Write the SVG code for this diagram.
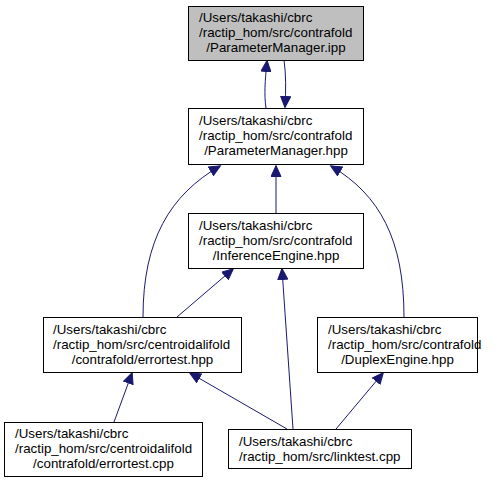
<svg xmlns="http://www.w3.org/2000/svg" width="499" height="483" viewBox="0 0 499 483">
<style>
.box{fill:#ffffff;stroke:#000000;stroke-width:1}
.hl{fill:#bfbfbf}
text{font-family:"Liberation Sans",Arial,sans-serif;font-size:13.33px;fill:#000000}
.m{text-anchor:middle}
.e{fill:none;stroke:#191970;stroke-width:1;marker-end:url(#ah)}
</style>
<defs>
<marker id="ah" markerUnits="userSpaceOnUse" markerWidth="13" markerHeight="11" refX="11" refY="5.5" orient="auto">
<path d="M0.5,0.5 L11.5,5.5 L0.5,10.5 z" fill="#191970" stroke="#191970" stroke-width="1"/>
</marker>
</defs>
<rect width="499" height="483" fill="#ffffff"/>
<g id="edges">
<path class="e" d="M266,108 C264,94 265,82 267,61"/>
<path class="e" d="M284,60 C286,74 286,90 285,107"/>
<path class="e" d="M143,317 C143,240 170,195 220,166"/>
<path class="e" d="M276,213 L276,166"/>
<path class="e" d="M404,317 C404,240 380,195 331,166"/>
<path class="e" d="M177,317 L233,269"/>
<path class="e" d="M293,429 L282,269"/>
<path class="e" d="M287,429 L190,373"/>
<path class="e" d="M336,429 L383,373"/>
<path class="e" d="M114,422 L132,373"/>
</g>
<g id="node_ipp">
<rect class="box hl" x="188.5" y="6.5" width="175" height="54"/>
<text x="199" y="22">/Users/takashi/cbrc</text>
<text x="199" y="37">/ractip_hom/src/contrafold</text>
<text class="m" x="276" y="52">/ParameterManager.ipp</text>
</g>
<g id="node_pm_hpp">
<rect class="box" x="188.5" y="108.5" width="175" height="56"/>
<text x="199" y="125">/Users/takashi/cbrc</text>
<text x="199" y="140">/ractip_hom/src/contrafold</text>
<text class="m" x="276" y="155">/ParameterManager.hpp</text>
</g>
<g id="node_ie">
<rect class="box" x="188.5" y="213.5" width="175" height="55"/>
<text x="199" y="230">/Users/takashi/cbrc</text>
<text x="199" y="245">/ractip_hom/src/contrafold</text>
<text class="m" x="276" y="260">/InferenceEngine.hpp</text>
</g>
<g id="node_et_hpp">
<rect class="box" x="43.5" y="317.5" width="198" height="55"/>
<text x="53" y="334">/Users/takashi/cbrc</text>
<text x="53" y="349">/ractip_hom/src/centroidalifold</text>
<text class="m" x="142.5" y="364">/contrafold/errortest.hpp</text>
</g>
<g id="node_de">
<rect class="box" x="317.5" y="317.5" width="160" height="55"/>
<text x="328" y="334">/Users/takashi/cbrc</text>
<text x="328" y="349">/ractip_hom/src/contrafold</text>
<text class="m" x="397.5" y="364">/DuplexEngine.hpp</text>
</g>
<g id="node_et_cpp">
<rect class="box" x="4.5" y="422.5" width="198" height="54"/>
<text x="15" y="438">/Users/takashi/cbrc</text>
<text x="15" y="453">/ractip_hom/src/centroidalifold</text>
<text class="m" x="103.5" y="468">/contrafold/errortest.cpp</text>
</g>
<g id="node_lt">
<rect class="box" x="228.5" y="429.5" width="183" height="39"/>
<text x="239" y="446">/Users/takashi/cbrc</text>
<text x="239" y="461">/ractip_hom/src/linktest.cpp</text>
</g>
</svg>
